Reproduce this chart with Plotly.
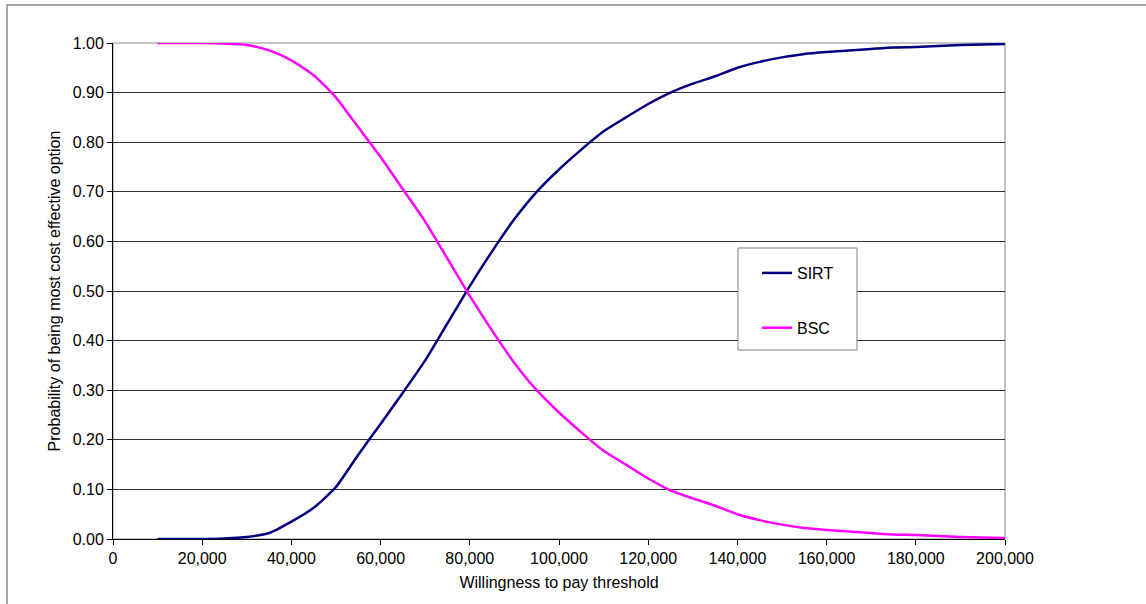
import plotly.graph_objects as go

# ---- data ----
wtp = [10000, 15000, 20000, 25000, 30000, 35000, 40000, 45000, 50000, 55000,
       60000, 65000, 70000, 75000, 80000, 85000, 90000, 95000, 100000, 105000,
       110000, 115000, 120000, 125000, 130000, 135000, 140000, 145000, 150000, 155000,
       160000, 165000, 170000, 175000, 180000, 185000, 190000, 195000, 200000]

sirt = [0.000, 0.000, 0.000, 0.001, 0.004, 0.012, 0.035, 0.063, 0.105, 0.170,
        0.232, 0.295, 0.360, 0.435, 0.510, 0.580, 0.645, 0.700, 0.745, 0.785,
        0.822, 0.850, 0.877, 0.900, 0.918, 0.933, 0.950, 0.962, 0.971, 0.978,
        0.982, 0.985, 0.988, 0.991, 0.992, 0.994, 0.996, 0.997, 0.998]

bsc = [1.000, 1.000, 1.000, 0.999, 0.996, 0.985, 0.965, 0.935, 0.890, 0.830,
       0.770, 0.705, 0.640, 0.565, 0.490, 0.420, 0.355, 0.300, 0.255, 0.215,
       0.178, 0.150, 0.122, 0.098, 0.082, 0.067, 0.050, 0.038, 0.029, 0.022,
       0.018, 0.015, 0.012, 0.009, 0.008, 0.006, 0.004, 0.003, 0.002]

x_ticks = [0, 20000, 40000, 60000, 80000, 100000, 120000, 140000, 160000, 180000, 200000]
y_ticks = [0.0, 0.1, 0.2, 0.3, 0.4, 0.5, 0.6, 0.7, 0.8, 0.9, 1.0]

series_names = ["SIRT", "BSC"]
series_colors = ["#000080", "#FF00FF"]

# ---- layout geometry (pixels) ----
W, H = 1146, 604
L, R, T, B = 113, 1005, 43, 539   # plot area edges
pw, ph = R - L, B - T

def px(xp):
    return (xp - L) / pw

def py(yp):
    return (B - yp) / ph

FONT = "Liberation Sans, Arial, sans-serif"
FS = 16

fig = go.Figure()
for name, vals, col in zip(series_names, [sirt, bsc], series_colors):
    fig.add_trace(go.Scatter(
        x=wtp, y=vals, name=name, mode="lines",
        line=dict(color=col, width=2.5, shape="spline", smoothing=0.6),
        legendgroup=name,
    ))

fig.update_layout(
    width=W, height=H,
    margin=dict(l=L, r=W - R, t=T, b=H - B, pad=0),
    paper_bgcolor="white", plot_bgcolor="white",
    font=dict(family=FONT, size=FS, color="black"),
    showlegend=True,
    legend=dict(
        x=px(757), y=py(256), xanchor="left", yanchor="top",
        bgcolor="rgba(0,0,0,0)", borderwidth=0,
        font=dict(family=FONT, size=FS, color="black"),
        tracegroupgap=31, itemwidth=30,
    ),
    xaxis=dict(
        range=[0, 200000], tickvals=x_ticks, tickformat=",d",
        showgrid=False, zeroline=False,
        showline=True, linecolor="black", linewidth=1,
        ticks="outside", ticklen=5, tickcolor="black", tickwidth=1,
        tickfont=dict(size=FS),
        title=dict(text="Willingness to pay threshold", font=dict(size=FS), standoff=10),
    ),
    yaxis=dict(
        range=[0, 1], tickvals=y_ticks, tickformat=".2f",
        showgrid=True, gridcolor="#333333", gridwidth=1,
        zeroline=False,
        showline=True, linecolor="black", linewidth=1,
        ticks="outside", ticklen=5, tickcolor="black", tickwidth=1,
        tickfont=dict(size=FS),
        title=dict(text="Probability of being most cost effective option",
                   font=dict(size=FS), standoff=8),
    ),
)

# gray plot-area frame (top and right), drawn between gridlines and traces
fig.add_shape(type="rect", xref="paper", yref="paper", x0=0, y0=0, x1=1, y1=1,
              line=dict(color="#8c8c8c", width=1), fillcolor="rgba(0,0,0,0)",
              layer="between")
# outer chart border (left and top visible)
fig.add_shape(type="rect", xref="paper", yref="paper",
              x0=px(7), y0=py(5), x1=px(W + 10), y1=py(H + 10),
              line=dict(color="#8c8c8c", width=1.5), fillcolor="rgba(0,0,0,0)",
              layer="above")
# legend box
fig.add_shape(type="rect", xref="paper", yref="paper",
              x0=px(738), y0=py(248), x1=px(857), y1=py(350),
              line=dict(color="#7f7f7f", width=1), fillcolor="white",
              layer="above")

fig.write_html("out.html",
               config={"displayModeBar": False},
               post_script="document.body.style.margin='0';document.body.style.overflow='hidden';")
